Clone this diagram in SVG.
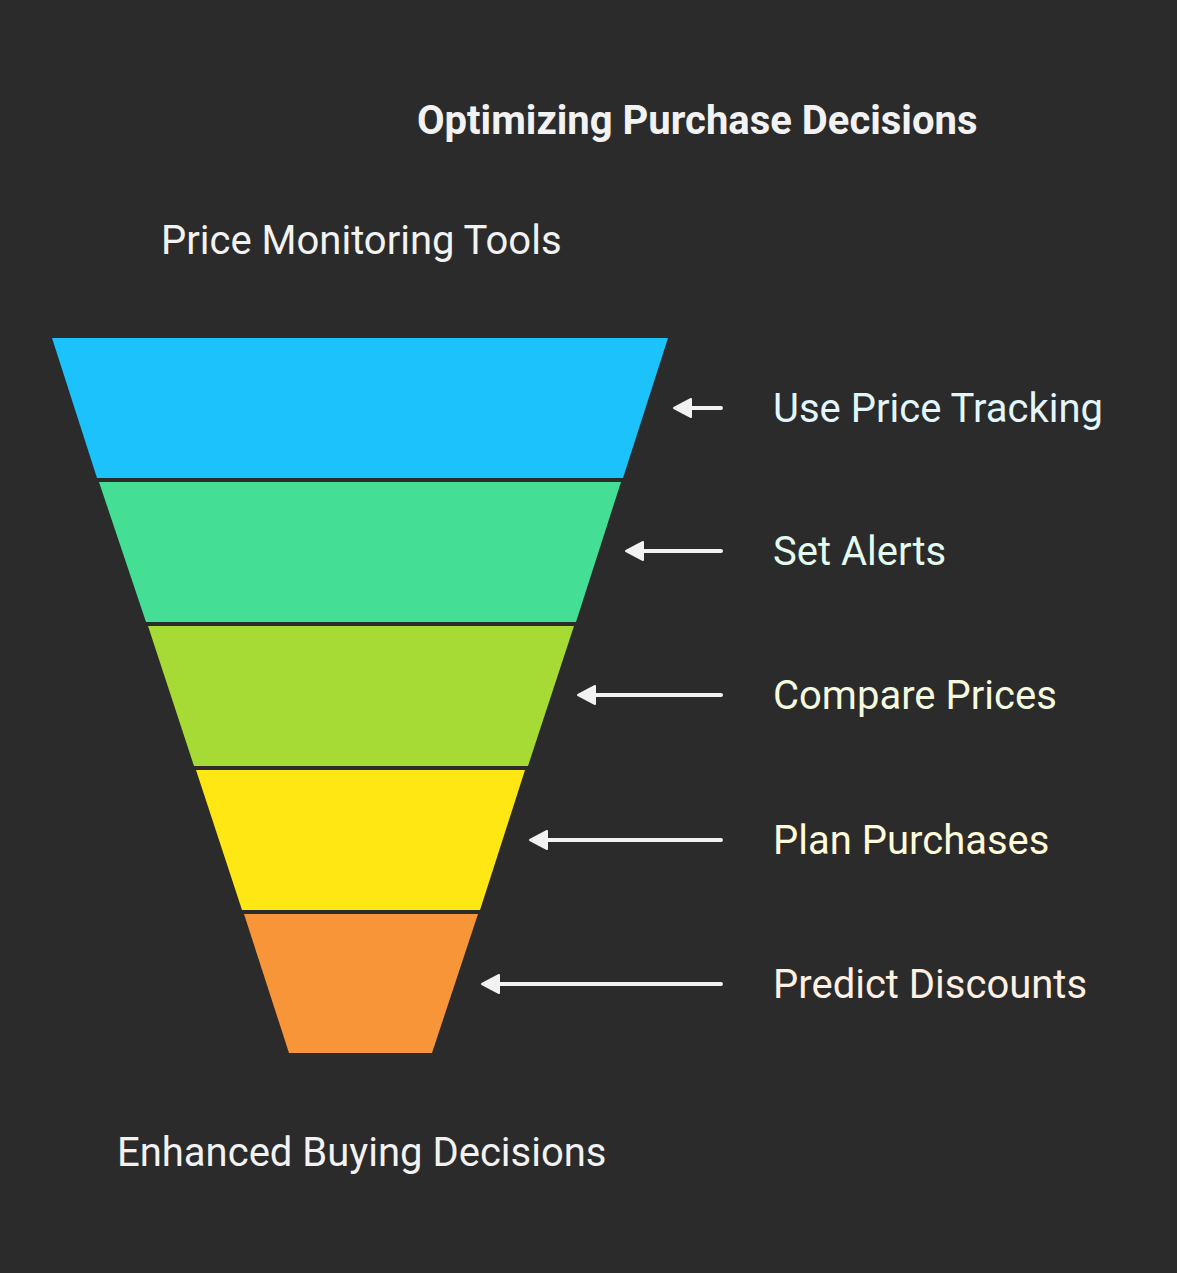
<svg xmlns="http://www.w3.org/2000/svg" width="1177" height="1273" viewBox="0 0 1177 1273">
<style>
.t{font-family:Roboto,"Liberation Sans",sans-serif;font-size:40px}
.b{font-weight:700;fill:#f2f2f2}
.w{fill:#f2f2f2}
.c{stroke:#f2f2f2;stroke-width:4;stroke-linecap:round;fill:none}
.h{fill:#f2f2f2;stroke:#f2f2f2;stroke-width:2;stroke-linejoin:round}
</style>
<rect width="1177" height="1273" fill="#2b2b2b"/>
<g id="title"><text class="t b" x="417" y="134">Optimizing Purchase Decisions</text></g>
<g id="top-label"><text class="t w" x="161" y="254">Price Monitoring Tools</text></g>
<g id="bottom-label"><text class="t w" x="117" y="1166">Enhanced Buying Decisions</text></g>
<g id="stage1"><polygon points="52,338 668,338 623,478 97,478" fill="#1bc2fc"/></g>
<g id="stage2"><polygon points="99,482 621,482 576,622 146,622" fill="#44de95"/></g>
<g id="stage3"><polygon points="148,626 574,626 528,766 194,766" fill="#a6da35"/></g>
<g id="stage4"><polygon points="196,770 525,770 480,910 242,910" fill="#ffe714"/></g>
<g id="stage5"><polygon points="244,914 478,914 432,1053 289,1053" fill="#f79538"/></g>
<g id="connectors">
<line class="c" x1="721" y1="408" x2="690" y2="408"/><polygon class="h" points="674,408 691,399 691,417"/>
<line class="c" x1="721" y1="551" x2="642" y2="551"/><polygon class="h" points="626,551 643,542 643,560"/>
<line class="c" x1="721" y1="695" x2="594" y2="695"/><polygon class="h" points="578,695 595,686 595,704"/>
<line class="c" x1="721" y1="840" x2="546" y2="840"/><polygon class="h" points="530,840 547,831 547,849"/>
<line class="c" x1="721" y1="984" x2="498" y2="984"/><polygon class="h" points="482,984 499,975 499,993"/>
</g>
<g id="label1"><text class="t" x="773" y="422" fill="#e1f6fd">Use Price Tracking</text></g>
<g id="label2"><text class="t" x="773" y="565" fill="#e3faef">Set Alerts</text></g>
<g id="label3"><text class="t" x="773" y="709" fill="#f4fadf">Compare Prices</text></g>
<g id="label4"><text class="t" x="773" y="854" fill="#fffbd9">Plan Purchases</text></g>
<g id="label5"><text class="t" x="773" y="998" fill="#fef0e3">Predict Discounts</text></g>
</svg>
